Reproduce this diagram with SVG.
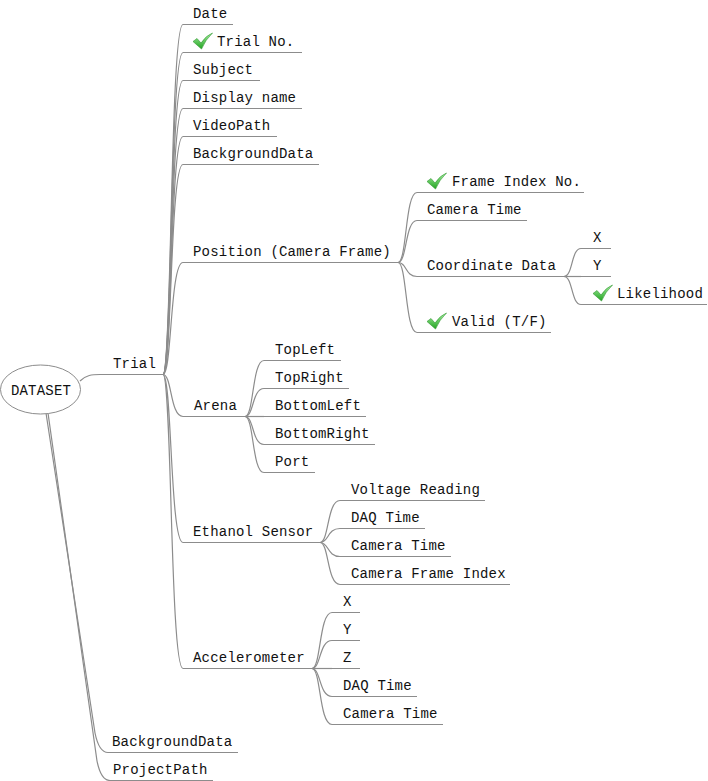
<svg xmlns="http://www.w3.org/2000/svg" width="708" height="781" viewBox="0 0 708 781">
<style>
text{font-family:"Liberation Mono","Courier New",monospace;font-size:14px;letter-spacing:0.2px;fill:#111}
.u{stroke:#8c8c8c;stroke-width:1;fill:none}
.c path{stroke:#8c8c8c;stroke-width:1.2;fill:none}
</style>
<defs>
<linearGradient id="g" x1="0" y1="0" x2="0" y2="1"><stop offset="0" stop-color="#a6f0a0"/><stop offset="1" stop-color="#22a322"/></linearGradient>
<path id="chk" d="M0,8.5 L4,5.5 L8,10 Q13,2.5 19.5,0 Q12.5,6.5 8.5,16 Z" fill="url(#g)" stroke="#2f962f" stroke-width="0.6"/>
</defs>
<rect width="708" height="781" fill="#fff"/>
<g class="c" id="connectors">
<path d="M80 381 C86 375 92 374.5 100 374.5"/>
<path d="M46 413 L95 733 Q99 752.5 108 752.5"/>
<path d="M48 413 L97 761 Q101 780.5 110 780.5"/>
<path d="M163 374.5 C172 374.5 170 24.5 183 24.5"/>
<path d="M163 374.5 C172 374.5 170 52.5 183 52.5"/>
<path d="M163 374.5 C172 374.5 170 80.5 183 80.5"/>
<path d="M163 374.5 C172 374.5 170 108.5 183 108.5"/>
<path d="M163 374.5 C172 374.5 170 136.5 183 136.5"/>
<path d="M163 374.5 C172 374.5 170 164.5 183 164.5"/>
<path d="M163 374.5 C172 374.5 170 262.5 183 262.5"/>
<path d="M163 374.5 C172 374.5 170 416.5 183 416.5"/>
<path d="M163 374.5 C172 374.5 170 542.5 183 542.5"/>
<path d="M163 374.5 C172 374.5 170 668.5 183 668.5"/>
<path d="M398 262.5 C407 262.5 405 192.5 417 192.5"/>
<path d="M398 262.5 C407 262.5 405 220.5 417 220.5"/>
<path d="M398 262.5 C407 262.5 405 276.5 417 276.5"/>
<path d="M398 262.5 C407 262.5 405 332.5 417 332.5"/>
<path d="M564 276.5 C573 276.5 571 248.5 581 248.5"/>
<path d="M564 276.5 L581 276.5"/>
<path d="M564 276.5 C573 276.5 571 304.5 581 304.5"/>
<path d="M245 416.5 C254 416.5 252 360.5 264 360.5"/>
<path d="M245 416.5 C254 416.5 252 388.5 264 388.5"/>
<path d="M245 416.5 L264 416.5"/>
<path d="M245 416.5 C254 416.5 252 444.5 264 444.5"/>
<path d="M245 416.5 C254 416.5 252 472.5 264 472.5"/>
<path d="M320 542.5 C329 542.5 327 500.5 340 500.5"/>
<path d="M320 542.5 C329 542.5 327 528.5 340 528.5"/>
<path d="M320 542.5 C329 542.5 327 556.5 340 556.5"/>
<path d="M320 542.5 C329 542.5 327 584.5 340 584.5"/>
<path d="M312 668.5 C321 668.5 319 612.5 332 612.5"/>
<path d="M312 668.5 C321 668.5 319 640.5 332 640.5"/>
<path d="M312 668.5 L332 668.5"/>
<path d="M312 668.5 C321 668.5 319 696.5 332 696.5"/>
<path d="M312 668.5 C321 668.5 319 724.5 332 724.5"/>
</g>
<g id="n-dataset"><ellipse cx="40.5" cy="389.5" rx="40" ry="24.5" fill="#fff" stroke="#8c8c8c"/><text x="41" y="395" text-anchor="middle">DATASET</text></g>
<g id="n-trial"><line class="u" x1="100" y1="374.5" x2="163" y2="374.5"/><text x="113" y="368">Trial</text></g>
<g id="n-bg0"><line class="u" x1="108" y1="752.5" x2="238" y2="752.5"/><text x="112" y="746">BackgroundData</text></g>
<g id="n-proj"><line class="u" x1="110" y1="780.5" x2="213" y2="780.5"/><text x="113" y="774">ProjectPath</text></g>
<g id="n-date"><line class="u" x1="183" y1="24.5" x2="233" y2="24.5"/><text x="193" y="18">Date</text></g>
<g id="n-trialno"><line class="u" x1="183" y1="52.5" x2="302" y2="52.5"/><use href="#chk" x="193" y="33"/><text x="217" y="46">Trial No.</text></g>
<g id="n-subject"><line class="u" x1="183" y1="80.5" x2="260" y2="80.5"/><text x="193" y="74">Subject</text></g>
<g id="n-display"><line class="u" x1="183" y1="108.5" x2="302" y2="108.5"/><text x="193" y="102">Display name</text></g>
<g id="n-video"><line class="u" x1="183" y1="136.5" x2="277" y2="136.5"/><text x="193" y="130">VideoPath</text></g>
<g id="n-bg1"><line class="u" x1="183" y1="164.5" x2="319" y2="164.5"/><text x="193" y="158">BackgroundData</text></g>
<g id="n-position"><line class="u" x1="183" y1="262.5" x2="398" y2="262.5"/><text x="193" y="256">Position (Camera Frame)</text></g>
<g id="n-frameidx"><line class="u" x1="417" y1="192.5" x2="584" y2="192.5"/><use href="#chk" x="427" y="173"/><text x="452" y="186">Frame Index No.</text></g>
<g id="n-camtime1"><line class="u" x1="417" y1="220.5" x2="527" y2="220.5"/><text x="427" y="214">Camera Time</text></g>
<g id="n-coord"><line class="u" x1="417" y1="276.5" x2="564" y2="276.5"/><text x="427" y="270">Coordinate Data</text></g>
<g id="n-valid"><line class="u" x1="417" y1="332.5" x2="551" y2="332.5"/><use href="#chk" x="427" y="313"/><text x="452" y="326">Valid (T/F)</text></g>
<g id="n-cx"><line class="u" x1="581" y1="248.5" x2="611" y2="248.5"/><text x="593" y="242">X</text></g>
<g id="n-cy"><line class="u" x1="581" y1="276.5" x2="611" y2="276.5"/><text x="593" y="270">Y</text></g>
<g id="n-like"><line class="u" x1="581" y1="304.5" x2="707" y2="304.5"/><use href="#chk" x="593" y="285"/><text x="617" y="298">Likelihood</text></g>
<g id="n-arena"><line class="u" x1="183" y1="416.5" x2="245" y2="416.5"/><text x="194" y="410">Arena</text></g>
<g id="n-tl"><line class="u" x1="264" y1="360.5" x2="341" y2="360.5"/><text x="275" y="354">TopLeft</text></g>
<g id="n-tr"><line class="u" x1="264" y1="388.5" x2="349" y2="388.5"/><text x="275" y="382">TopRight</text></g>
<g id="n-bl"><line class="u" x1="264" y1="416.5" x2="366" y2="416.5"/><text x="275" y="410">BottomLeft</text></g>
<g id="n-br"><line class="u" x1="264" y1="444.5" x2="375" y2="444.5"/><text x="275" y="438">BottomRight</text></g>
<g id="n-port"><line class="u" x1="264" y1="472.5" x2="315" y2="472.5"/><text x="275" y="466">Port</text></g>
<g id="n-ethanol"><line class="u" x1="183" y1="542.5" x2="320" y2="542.5"/><text x="193" y="536">Ethanol Sensor</text></g>
<g id="n-volt"><line class="u" x1="340" y1="500.5" x2="485" y2="500.5"/><text x="351" y="494">Voltage Reading</text></g>
<g id="n-daq1"><line class="u" x1="340" y1="528.5" x2="425" y2="528.5"/><text x="351" y="522">DAQ Time</text></g>
<g id="n-camtime2"><line class="u" x1="340" y1="556.5" x2="451" y2="556.5"/><text x="351" y="550">Camera Time</text></g>
<g id="n-camidx"><line class="u" x1="340" y1="584.5" x2="510" y2="584.5"/><text x="351" y="578">Camera Frame Index</text></g>
<g id="n-accel"><line class="u" x1="183" y1="668.5" x2="312" y2="668.5"/><text x="193" y="662">Accelerometer</text></g>
<g id="n-ax"><line class="u" x1="332" y1="612.5" x2="360" y2="612.5"/><text x="343" y="606">X</text></g>
<g id="n-ay"><line class="u" x1="332" y1="640.5" x2="360" y2="640.5"/><text x="343" y="634">Y</text></g>
<g id="n-az"><line class="u" x1="332" y1="668.5" x2="360" y2="668.5"/><text x="343" y="662">Z</text></g>
<g id="n-daq2"><line class="u" x1="332" y1="696.5" x2="417" y2="696.5"/><text x="343" y="690">DAQ Time</text></g>
<g id="n-camtime3"><line class="u" x1="332" y1="724.5" x2="443" y2="724.5"/><text x="343" y="718">Camera Time</text></g>
</svg>
